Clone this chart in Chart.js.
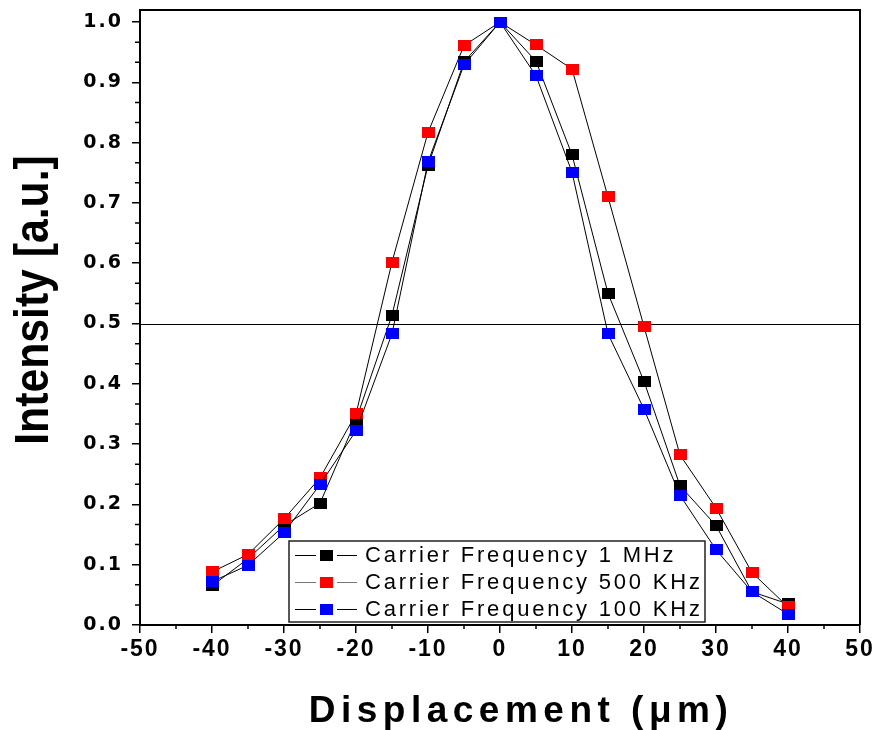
<!DOCTYPE html>
<html lang="en">
<head>
  <meta charset="UTF-8" />
  <title>Intensity vs Displacement</title>
  <script src="https://cdn.jsdelivr.net/npm/chart.js"></script>
  <style>
    html, body { margin: 0; padding: 0; background: #fff; }
    #wrap { width: 876px; height: 730px; }
  </style>
</head>
<body>
  <div id="wrap"><canvas id="chart" width="876" height="730"></canvas></div>

  <script>
    // Data
    const displacement = [-40, -35, -30, -25, -20, -15, -10, -5, 0, 5, 10, 15, 20, 25, 30, 35, 40];
    const mhz1   = [0.065, 0.110, 0.165, 0.202, 0.340, 0.514, 0.762, 0.934, 1.000, 0.935, 0.780, 0.550, 0.404, 0.231, 0.165, 0.055, 0.035];
    const khz500 = [0.088, 0.117, 0.176, 0.244, 0.350, 0.602, 0.817, 0.961, 1.000, 0.962, 0.922, 0.710, 0.495, 0.282, 0.194, 0.087, 0.030];
    const khz100 = [0.072, 0.099, 0.153, 0.233, 0.322, 0.483, 0.768, 0.929, 1.000, 0.911, 0.751, 0.483, 0.358, 0.215, 0.125, 0.055, 0.018];

    const seriesNames = ['Carrier Frequency 1 MHz', 'Carrier Frequency 500 KHz', 'Carrier Frequency 100 KHz'];
    const seriesValues = [mhz1, khz500, khz100];
    const seriesColors = ['#000000', '#ff0000', '#0000ff'];

    const xTicks = [-50, -40, -30, -20, -10, 0, 10, 20, 30, 40, 50];
    const yTicks = [0, 0.1, 0.2, 0.3, 0.4, 0.5, 0.6, 0.7, 0.8, 0.9, 1.0];
    const halfLevel = 0.5;

    // little rectangular marker like the original plot
    function marker(color) {
      const c = document.createElement('canvas');
      c.width = 13;
      c.height = 11;
      const g = c.getContext('2d');
      g.fillStyle = color;
      g.fillRect(0, 0, 13, 11);
      return c;
    }

    // keep the plot box where the original has it
    function noPadding(s) {
      s.paddingTop = 0;
      s.paddingBottom = 0;
      s.paddingLeft = 0;
      s.paddingRight = 0;
    }

    const decorations = {
      id: 'decorations',
      beforeDraw(chart) {
        chart.ctx.letterSpacing = '2px';
      },
      beforeDatasetsDraw(chart) {
        const { ctx, chartArea: a, scales } = chart;
        const y = Math.round(scales.y.getPixelForValue(halfLevel)) + 0.5;
        ctx.save();
        ctx.strokeStyle = '#000';
        ctx.lineWidth = 1;
        ctx.beginPath();
        ctx.moveTo(a.left, y);
        ctx.lineTo(a.right, y);
        ctx.stroke();
        ctx.restore();
      },
      afterDraw(chart) {
        const { ctx, chartArea: a, scales } = chart;
        ctx.save();
        ctx.letterSpacing = '0px';
        ctx.strokeStyle = '#000';

        // frame top + right
        ctx.lineWidth = 2;
        ctx.beginPath();
        ctx.moveTo(a.left, a.top);
        ctx.lineTo(a.right, a.top);
        ctx.lineTo(a.right, a.bottom);
        ctx.stroke();

        // minor ticks
        ctx.lineWidth = 1.5;
        ctx.beginPath();
        for (let v = -45; v <= 45; v += 10) {
          const px = scales.x.getPixelForValue(v);
          ctx.moveTo(px, a.bottom);
          ctx.lineTo(px, a.bottom + 4);
        }
        for (let k = 1; k <= 30; k++) {
          if (k % 3 === 0) continue;
          const py = scales.y.getPixelForValue(k / 30);
          ctx.moveTo(a.left, py);
          ctx.lineTo(a.left - 5, py);
        }
        ctx.stroke();

        // legend box
        const bx = 289, by = 541, bw = 416, bh = 81;
        ctx.fillStyle = '#fff';
        ctx.fillRect(bx, by, bw, bh);
        ctx.lineWidth = 1.5;
        ctx.strokeStyle = '#222';
        ctx.strokeRect(bx, by, bw, bh);
        const rows = [555, 582, 609];
        ctx.font = '22px "Liberation Sans", Arial, sans-serif';
        ctx.textBaseline = 'middle';
        ctx.textAlign = 'left';
        seriesNames.forEach((name, i) => {
          const ry = rows[i];
          ctx.strokeStyle = i === 1 ? '#777' : '#000';
          ctx.lineWidth = 1;
          ctx.beginPath();
          ctx.moveTo(295, ry + 0.5);
          ctx.lineTo(316, ry + 0.5);
          ctx.moveTo(337, ry + 0.5);
          ctx.lineTo(357, ry + 0.5);
          ctx.stroke();
          ctx.fillStyle = seriesColors[i];
          ctx.fillRect(320, ry - 5, 13, 11);
          ctx.fillStyle = '#000';
          ctx.letterSpacing = '2.8px';
          ctx.fillText(name, 365, ry + 1);
          ctx.letterSpacing = '0px';
        });

        // axis titles
        ctx.fillStyle = '#000';
        ctx.save();
        ctx.translate(33, 300);
        ctx.rotate(-Math.PI / 2);
        ctx.scale(0.89, 1);
        ctx.font = 'bold 48px "Liberation Sans", Arial, sans-serif';
        ctx.textAlign = 'center';
        ctx.textBaseline = 'middle';
        ctx.fillText('Intensity [a.u.]', 0, 2);
        ctx.restore();

        ctx.font = 'bold 37px "Liberation Sans", Arial, sans-serif';
        ctx.letterSpacing = '5.5px';
        ctx.textAlign = 'center';
        ctx.textBaseline = 'alphabetic';
        ctx.fillText('Displacement (\u03bcm)', 521, 722);
        ctx.restore();
      }
    };

    const ctx = document.getElementById('chart').getContext('2d');
    const chart = new Chart(ctx, {
      type: 'line',
      data: {
        datasets: seriesNames.map((name, i) => ({
          label: name,
          data: displacement.map((x, j) => ({ x: x, y: seriesValues[i][j] })),
          borderColor: '#000',
          borderWidth: 1,
          pointStyle: marker(seriesColors[i]),
          backgroundColor: seriesColors[i],
          tension: 0,
          fill: false,
          order: 3 - i
        }))
      },
      options: {
        responsive: false,
        animation: false,
        layout: { padding: { top: 10, right: 16, left: 0, bottom: 0 } },
        plugins: {
          legend: { display: false },
          tooltip: { enabled: false }
        },
        scales: {
          x: {
            type: 'linear',
            min: -50,
            max: 50,
            afterBuildTicks: (s) => { s.ticks = xTicks.map(v => ({ value: v })); },
            afterFit: (s) => { s.height = 105; noPadding(s); },
            grid: { drawOnChartArea: false, drawTicks: true, tickLength: 8, color: '#000', lineWidth: 1.5 },
            border: { display: true, color: '#000', width: 2 },
            ticks: {
              color: '#000',
              font: { family: '"Liberation Sans", Arial, sans-serif', size: 23, weight: 'bold' },
              padding: 3,
              maxRotation: 0,
              autoSkip: false
            }
          },
          y: {
            min: 0,
            max: 1.02,
            afterBuildTicks: (s) => { s.ticks = yTicks.map(v => ({ value: v })); },
            afterFit: (s) => { s.width = 140; noPadding(s); },
            grid: { drawOnChartArea: false, drawTicks: true, tickLength: 8, color: '#000', lineWidth: 1.5 },
            border: { display: true, color: '#000', width: 2 },
            ticks: {
              color: '#000',
              font: { family: '"DejaVu Sans", sans-serif', size: 19, weight: 'bold' },
              padding: 9,
              autoSkip: false,
              callback: (v) => v.toFixed(1)
            }
          }
        }
      },
      plugins: [decorations]
    });
  </script>
</body>
</html>
